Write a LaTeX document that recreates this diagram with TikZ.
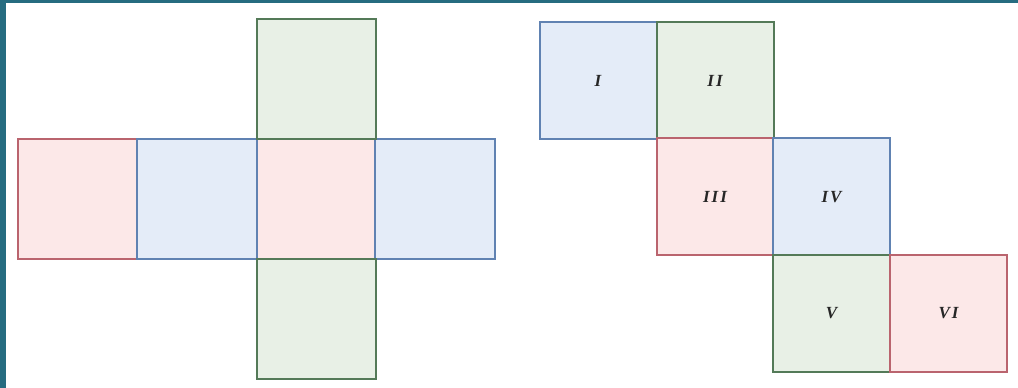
\documentclass[tikz,border=0pt]{standalone}
\usepackage{fontspec}
\usepackage{tikz}
\newfontfamily\numeralfont[LetterSpace=12]{Liberation Serif}

\definecolor{edgered}{RGB}{186,100,110}
\definecolor{fillred}{RGB}{252,232,232}
\definecolor{edgeblue}{RGB}{96,130,178}
\definecolor{fillblue}{RGB}{228,236,248}
\definecolor{edgegreen}{RGB}{84,122,88}
\definecolor{fillgreen}{RGB}{232,240,230}
\definecolor{frameteal}{RGB}{38,108,128}

\tikzset{
  face/.style={rectangle, inner sep=0pt, outer sep=0pt, line width=2pt,
    font=\numeralfont\fontsize{17}{19}\selectfont\bfseries\itshape,
    text=black!85},
  bigface/.style={face, minimum size=119.5pt},
  smallface/.style={face, minimum size=117pt},
  redface/.style={draw=edgered, fill=fillred},
  blueface/.style={draw=edgeblue, fill=fillblue},
  greenface/.style={draw=edgegreen, fill=fillgreen},
}

\begin{document}
\begin{tikzpicture}[x=1pt, y=1pt]
\useasboundingbox (0,0) rectangle (1018,388);
\fill[white] (0,0) rectangle (1018,388);
\fill[frameteal] (0,0) rectangle (6,388);
\fill[frameteal] (0,385) rectangle (1018,388);
% cross
\node[bigface, redface] (crosscentre) at (316.5,189) {};
\node[bigface, redface] (crossleft) at (77.5,189) {};
\node[bigface, blueface] (crossmidleft) at (197,189) {};
\node[bigface, blueface] (crossright) at (435,189) {};
\node[bigface, greenface] (crosstop) at (316.5,309) {};
\node[bigface, greenface] (crossbottom) at (316.5,69) {};
% staircase
\node[smallface, blueface] (one) at (598,307.5) {I};
\node[smallface, greenface] (two) at (715,307.5) {II};
\node[smallface, redface] (three) at (715,191) {III};
\node[smallface, blueface] (four) at (831.5,191) {IV};
\node[smallface, greenface] (five) at (831.5,74.5) {V};
\node[smallface, redface] (six) at (948.5,74.5) {VI};
\end{tikzpicture}
\end{document}
